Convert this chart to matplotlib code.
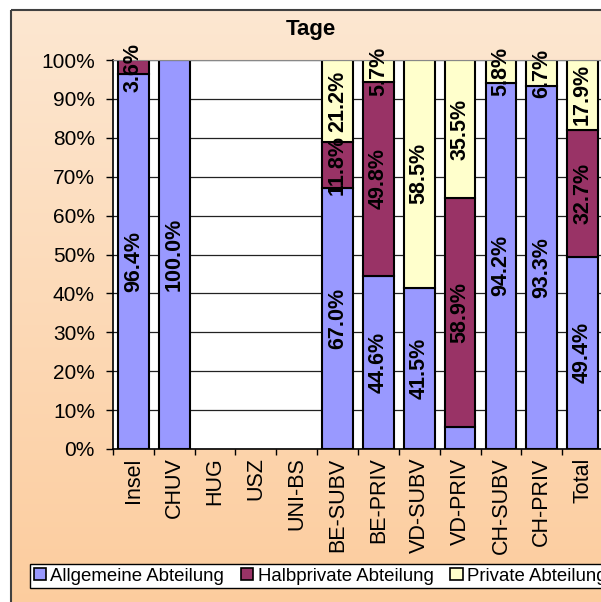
import numpy as np
import matplotlib
matplotlib.use('Agg')
import matplotlib.pyplot as plt
from matplotlib.colors import to_rgb
from matplotlib.patches import Rectangle, Patch
from matplotlib.ticker import PercentFormatter

plt.rcParams['font.family'] = ['Liberation Sans', 'DejaVu Sans']

categories = ['Insel', 'CHUV', 'HUG', 'USZ', 'UNI-BS', 'BE-SUBV', 'BE-PRIV',
              'VD-SUBV', 'VD-PRIV', 'CH-SUBV', 'CH-PRIV', 'Total']
allgemeine = [96.4, 100.0, 0, 0, 0, 67.0, 44.6, 41.5, 5.6, 94.2, 93.3, 49.4]
halbprivat = [3.6, 0, 0, 0, 0, 11.8, 49.8, 0, 58.9, 0, 0, 32.7]
privat = [0, 0, 0, 0, 0, 21.2, 5.7, 58.5, 35.5, 5.8, 6.7, 17.9]
series_names = ['Allgemeine Abteilung', 'Halbprivate Abteilung', 'Private Abteilung']
colors = ['#9999FF', '#993366', '#FFFFCC']
# labels that the original chart does not show (category, series index)
hidden_labels = {('VD-PRIV', 0)}

W, H = 601, 602
fig = plt.figure(figsize=(W / 100, H / 100), dpi=100, facecolor='white')

# peach gradient chart area with frame
bg = fig.add_axes([0, 0, 1, 1], zorder=-1)
bg.set_xlim(0, W)
bg.set_ylim(H, 0)
bg.axis('off')
top_c = np.array(to_rgb('#FDE7D1'))
bot_c = np.array(to_rgb('#FCCB9B'))
t = np.linspace(0, 1, 256)[:, None, None]
grad = top_c * (1 - t) + bot_c * t
bg.imshow(grad, extent=(11, 640, 640, 10), aspect='auto', origin='upper')
bg.add_patch(Rectangle((11, 10), 640, 640, fill=False, edgecolor='#404040', lw=1.5))

ax = fig.add_axes([113 / W, 1 - 449 / H, 490 / W, 389 / H])
ax.set_facecolor('white')

series = [np.array(allgemeine, float), np.array(halbprivat, float), np.array(privat, float)]
totals = sum(series)
totals[totals == 0] = 1
x = np.arange(len(categories))
bottom = np.zeros(len(categories))
for si, (vals, col) in enumerate(zip(series, colors)):
    h = vals / totals * 100
    nz = vals > 0
    ax.bar(x[nz], h[nz], bottom=bottom[nz], width=0.75, color=col, edgecolor='black',
           linewidth=1.5, zorder=2)
    for i, v in enumerate(vals):
        if v > 0 and (categories[i], si) not in hidden_labels:
            ax.text(x[i], bottom[i] + h[i] / 2, f'{v:.1f}%', rotation=90,
                    ha='center', va='center', fontsize=15.5, fontweight='bold',
                    zorder=3)
    bottom += h

ax.set_xlim(-0.5, len(categories) - 0.5)
ax.set_ylim(0, 100)
ax.set_yticks(np.arange(0, 101, 10))
ax.yaxis.set_major_formatter(PercentFormatter(decimals=0))
ax.yaxis.grid(True, color='#222222', linewidth=0.9)
ax.set_axisbelow(True)
ax.tick_params(axis='y', length=5, width=1, pad=8, labelsize=15)

ax.set_xticks(x)
ax.set_xticklabels(categories, rotation=90, fontsize=15.5)
ax.set_xticks(np.arange(-0.5, len(categories), 1), minor=True)
ax.tick_params(axis='x', which='major', length=0, pad=6)
ax.tick_params(axis='x', which='minor', length=4, width=1)

for s in ['left', 'bottom']:
    ax.spines[s].set_color('black')
    ax.spines[s].set_linewidth(1.2)
ax.spines['top'].set_color('#888888')
ax.spines['right'].set_visible(False)

fig.text(311 / W, 1 - 30 / H, 'Tage', ha='center', va='center',
         fontsize=16, fontweight='bold')

handles = [Patch(facecolor=c, edgecolor='black', linewidth=1.2) for c in colors]
fig.legend(handles, series_names, loc='upper left', bbox_to_anchor=(30 / W, 1 - 564 / H),
           ncol=3, frameon=True, fancybox=False, edgecolor='black', framealpha=1,
           fontsize=13.4, handlelength=0.65, handleheight=0.65, handletextpad=0.25,
           columnspacing=0.9, borderpad=0.2, borderaxespad=0)

fig.savefig('out.png', dpi=100)
